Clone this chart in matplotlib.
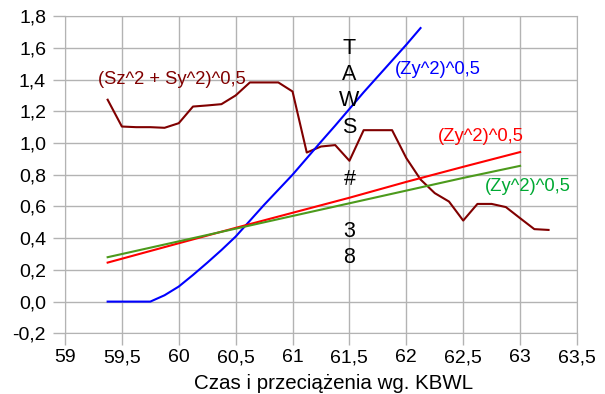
import matplotlib
matplotlib.use("Agg")
import matplotlib.pyplot as plt
from matplotlib.ticker import FuncFormatter

plt.rcParams['font.family'] = ['Liberation Sans', 'DejaVu Sans']

# Data
x_s = [59.375, 59.5, 59.625, 59.75, 59.875, 60.0, 60.125, 60.25, 60.375, 60.5, 60.625,
       60.75, 60.875, 61.0, 61.125, 61.25, 61.375, 61.5, 61.625, 61.75, 61.875, 62.0,
       62.125, 62.25, 62.375, 62.5, 62.625, 62.75, 62.875, 63.0, 63.125, 63.25]
s_total = [1.273, 1.104, 1.10, 1.10, 1.096, 1.125, 1.23, 1.237, 1.245, 1.30, 1.382,
           1.382, 1.382, 1.325, 0.94, 0.978, 0.987, 0.888, 1.081, 1.081, 1.081, 0.905,
           0.77, 0.684, 0.631, 0.511, 0.616, 0.616, 0.596, 0.526, 0.457, 0.452]

x_blue = [59.375, 59.5, 59.625, 59.75, 59.875, 60.0, 60.125, 60.25, 60.375, 60.5, 60.625,
          60.75, 60.875, 61.0, 61.125, 61.25, 61.375, 61.5, 61.625, 61.75, 61.875, 62.0, 62.125]
zy_blue = [0.0, 0.0, 0.0, 0.0, 0.04, 0.095, 0.168, 0.245, 0.325, 0.41, 0.51,
           0.61, 0.705, 0.80, 0.904, 1.008, 1.11, 1.215, 1.32, 1.42, 1.52, 1.62, 1.725]

x_lin = [59.375, 60.0, 60.5, 61.0, 61.5, 62.0, 62.5, 63.0]
zy_red = [0.246, 0.368, 0.465, 0.56, 0.655, 0.755, 0.85, 0.943]
zy_green = [0.28, 0.38, 0.46, 0.54, 0.62, 0.70, 0.78, 0.856]

xticks = [59, 59.5, 60, 60.5, 61, 61.5, 62, 62.5, 63, 63.5]
yticks = [-0.2, 0.0, 0.2, 0.4, 0.6, 0.8, 1.0, 1.2, 1.4, 1.6, 1.8]

fig = plt.figure(figsize=(6.05, 3.94), dpi=100)
ax = fig.add_axes([0.1074, 0.154, 0.8463, 0.805])

ax.plot(x_s, s_total, color='#800000', lw=1.5)
ax.plot(x_blue, zy_blue, color='#0000ff', lw=1.5)
ax.plot(x_lin, zy_red, color='#ff0000', lw=1.5)
ax.plot(x_lin, zy_green, color='#4c9a1c', lw=1.5)

ax.set_xlim(59, 63.5)
ax.set_ylim(-0.2, 1.8)
ax.set_xticks(xticks)
ax.set_yticks(yticks)

comma = FuncFormatter(lambda v, p: ('%g' % round(v, 2)).replace('.', ','))
ax.xaxis.set_major_formatter(comma)
ax.yaxis.set_major_formatter(FuncFormatter(lambda v, p: ('%.1f' % v).replace('.', ',').replace('-0,0', '0,0')))

ax.grid(True, color='#b3b3b3', lw=1)
ax.set_axisbelow(True)
for sp in ax.spines.values():
    sp.set_color('#b3b3b3')
ax.tick_params(axis='both', colors='#b3b3b3', labelcolor='black', labelsize=14,
               length=8.6, width=1, direction='out')
ax.tick_params(axis='y', pad=5)
ax.tick_params(axis='x', pad=3)

ax.set_xlabel('Czas i przeciążenia wg. KBWL', fontsize=14.8, va='center')
ax.xaxis.set_label_coords((334 - 65) / 512, (333.3 - 383) / 317.3)

ax.text(59.29, 1.40, '(Sz^2 + Sy^2)^0,5', color='#800000', fontsize=13.2, va='center')
ax.text(61.9, 1.462, '(Zy^2)^0,5', color='#0000ff', fontsize=13.2, va='center')
ax.text(62.28, 1.039, '(Zy^2)^0,5', color='#ff0000', fontsize=13.2, va='center')
ax.text(62.69, 0.726, '(Zy^2)^0,5', color='#00a933', fontsize=13.2, va='center')
ax.text(61.5, 0.936, 'T\nA\nW\nS\n \n#\n \n3\n8', color='black', fontsize=15.5,
        ha='center', va='center', linespacing=1.32)

fig.savefig('out.png', dpi=100)
